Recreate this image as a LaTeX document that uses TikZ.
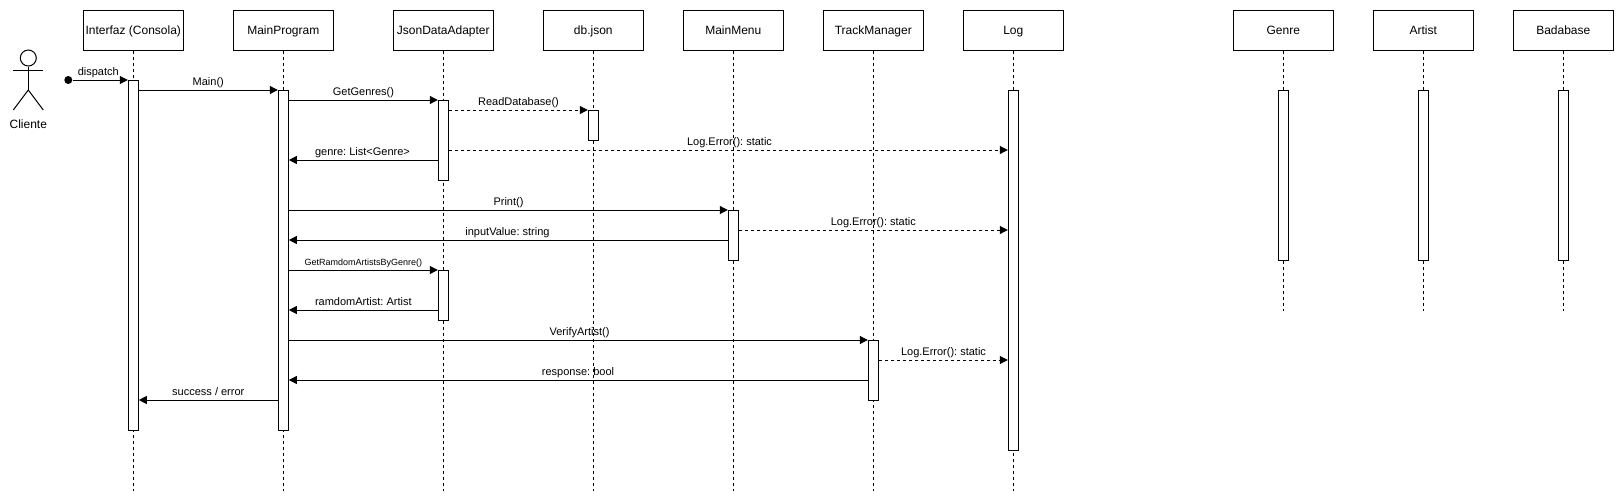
\documentclass[tikz,border=0pt]{standalone}
\usepackage{fontspec}
\setmainfont{Liberation Sans}
\usetikzlibrary{arrows.meta}
\frenchspacing

\begin{document}
\begin{tikzpicture}[x=1pt, y=-1pt, line width=1pt,
        head/.style={draw, fill=white, minimum width=100pt, minimum height=40pt, inner sep=0pt, text height=10pt, text depth=2pt, font=\fontsize{12}{14}\selectfont},
        bar/.style={draw, fill=white, anchor=north, minimum width=10pt, inner sep=0pt},
        life/.style={dash pattern=on 3pt off 3pt},
        msg/.style={-{Triangle[length=8pt, width=8pt]}},
        dmsg/.style={msg, dash pattern=on 3pt off 3pt},
        lbl/.style={anchor=base, inner sep=0pt, font=\fontsize{11}{13}\selectfont},
        tinylbl/.style={anchor=base, inner sep=0pt, font=\fontsize{9}{10}\selectfont}]
        \useasboundingbox (0,0) rectangle (1624,501);

        % heads
        \node[head] (ui) at (133.3,30) {Interfaz (Consola)};
        \node[head] (main) at (283.3,30) {MainProgram};
        \node[head] (json) at (443.3,30) {JsonDataAdapter};
        \node[head] (db) at (593.3,30) {db.json};
        \node[head] (menu) at (733.3,30) {MainMenu};
        \node[head] (track) at (873.3,30) {TrackManager};
        \node[head] (log) at (1013.3,30) {Log};
        \node[head] (genre) at (1283.3,30) {Genre};
        \node[head] (artist) at (1423.3,30) {Artist};
        \node[head] (base) at (1563.3,30) {Badabase};

        % lifelines
        \coordinate (longend) at (0,491);
        \coordinate (shortend) at (0,311);
        \draw[life] (ui.south) -- (ui.south |- longend);
        \draw[life] (main.south) -- (main.south |- longend);
        \draw[life] (json.south) -- (json.south |- longend);
        \draw[life] (db.south) -- (db.south |- longend);
        \draw[life] (menu.south) -- (menu.south |- longend);
        \draw[life] (track.south) -- (track.south |- longend);
        \draw[life] (log.south) -- (log.south |- longend);
        \draw[life] (genre.south) -- (genre.south |- shortend);
        \draw[life] (artist.south) -- (artist.south |- shortend);
        \draw[life] (base.south) -- (base.south |- shortend);

        % activation bars
        \node[bar, minimum height=350pt] (uibar) at (133.3,80) {};
        \node[bar, minimum height=340pt] (mainbar) at (283.3,90) {};
        \node[bar, minimum height=80pt] (jsonbar) at (443.3,100) {};
        \node[bar, minimum height=50pt] (jsonbartwo) at (443.3,270) {};
        \node[bar, minimum height=30pt] (dbbar) at (593.3,110) {};
        \node[bar, minimum height=50pt] (menubar) at (733.3,210) {};
        \node[bar, minimum height=60pt] (trackbar) at (873.3,340) {};
        \node[bar, minimum height=360pt] (logbar) at (1013.3,90) {};
        \node[bar, minimum height=170pt] (genrebar) at (1283.3,90) {};
        \node[bar, minimum height=170pt] (artistbar) at (1423.3,90) {};
        \node[bar, minimum height=170pt] (basebar) at (1563.3,90) {};

        % actor
        \node[circle, draw, minimum size=16pt, inner sep=0pt] (cliente) at (28.3,58) {};
        \coordinate (hip) at (28.3,90);
        \coordinate (armleft) at (13.3,70.5);
        \coordinate (armright) at (43.3,70.5);
        \coordinate (footleft) at (13.3,110);
        \coordinate (footright) at (43.3,110);
        \draw (cliente.south) -- (hip);
        \draw (armleft) -- (armright);
        \draw (footleft) -- (hip) -- (footright);
        \node[lbl, font=\fontsize{12}{14}\selectfont] (clientelbl) at (28.3,128) {Cliente};

        % rows of the messages
        \coordinate (rowmain) at (0,90);
        \coordinate (rowgenres) at (0,100);
        \coordinate (rowread) at (0,110);
        \coordinate (rowerrone) at (0,150);
        \coordinate (rowgenre) at (0,160);
        \coordinate (rowprint) at (0,210);
        \coordinate (rowerrtwo) at (0,230);
        \coordinate (rowinput) at (0,240);
        \coordinate (rowrandom) at (0,270);
        \coordinate (rowartist) at (0,310);
        \coordinate (rowverify) at (0,340);
        \coordinate (rowerrthree) at (0,360);
        \coordinate (rowresponse) at (0,380);
        \coordinate (rowresult) at (0,400);

        % messages
        \node[circle, fill, minimum size=8pt, inner sep=0pt] (start) at (68.3,80) {};
        \draw[msg] (start) -- (uibar.north west);
        \draw[msg] (uibar.east |- rowmain) -- (mainbar.north west);
        \draw[msg] (mainbar.east |- rowgenres) -- (jsonbar.north west);
        \draw[dmsg] (jsonbar.east |- rowread) -- (dbbar.north west);
        \draw[dmsg] (jsonbar.east |- rowerrone) -- (logbar.west |- rowerrone);
        \draw[msg] (jsonbar.west |- rowgenre) -- (mainbar.east |- rowgenre);
        \draw[msg] (mainbar.east |- rowprint) -- (menubar.north west);
        \draw[dmsg] (menubar.east |- rowerrtwo) -- (logbar.west |- rowerrtwo);
        \draw[msg] (menubar.west |- rowinput) -- (mainbar.east |- rowinput);
        \draw[msg] (mainbar.east |- rowrandom) -- (jsonbartwo.north west);
        \draw[msg] (jsonbartwo.west |- rowartist) -- (mainbar.east |- rowartist);
        \draw[msg] (mainbar.east |- rowverify) -- (trackbar.north west);
        \draw[dmsg] (trackbar.east |- rowerrthree) -- (logbar.west |- rowerrthree);
        \draw[msg] (trackbar.west |- rowresponse) -- (mainbar.east |- rowresponse);
        \draw[msg] (mainbar.west |- rowresult) -- (uibar.east |- rowresult);

        % labels
        \node[lbl] (dispatchlbl) at (98.3,75) {dispatch};
        \node[lbl] (mainlbl) at (208.3,85) {Main()};
        \node[lbl] (genreslbl) at (363.5,95) {GetGenres()};
        \node[lbl] (readlbl) at (518.5,105) {ReadDatabase()};
        \node[lbl] (erronelbl) at (729.5,145) {Log.Error(): static};
        \node[lbl] (genrelbl) at (362.5,155) {genre: List<Genre>};
        \node[lbl] (printlbl) at (508.5,205) {Print()};
        \node[lbl] (errtwolbl) at (873.3,225) {Log.Error(): static};
        \node[lbl] (inputlbl) at (507.5,235) {inputValue: string};
        \node[tinylbl] (randomlbl) at (363.3,265) {GetRamdomArtistsByGenre()};
        \node[lbl] (artistlbl) at (363.3,305) {ramdomArtist: Artist};
        \node[lbl] (verifylbl) at (579.5,335) {VerifyArtist()};
        \node[lbl] (errthreelbl) at (943.5,355) {Log.Error(): static};
        \node[lbl] (responselbl) at (578,375) {response: bool};
        \node[lbl] (resultlbl) at (208.3,395) {success / error};
    \end{tikzpicture}
\end{document}
